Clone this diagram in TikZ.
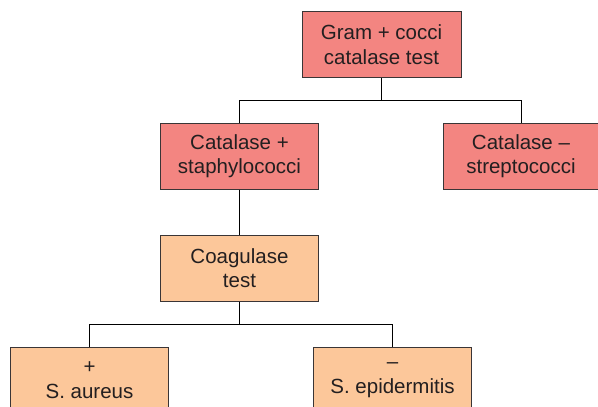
\documentclass[tikz,border=0pt]{standalone}
\usepackage{fontspec}
\setmainfont{Liberation Sans}
\definecolor{redbox}{HTML}{F38581}
\definecolor{orangebox}{HTML}{FCC79A}
\definecolor{txt}{HTML}{231F20}
\definecolor{edge}{HTML}{3A3536}
\begin{document}
\begin{tikzpicture}[x=1pt,y=-1pt,
  box/.style={draw=edge, line width=1pt, text=txt, align=center, inner sep=0pt,
    font=\fontsize{20.5}{24.5}\selectfont},
  redb/.style={box, fill=redbox, minimum width=158pt, minimum height=66pt},
  orb/.style={box, fill=orangebox, minimum width=158pt, minimum height=66pt},
  conn/.style={draw=black, line width=1pt}]
\clip (0,0) rectangle (598,407);
\useasboundingbox (0,0) rectangle (598,407);
\node[redb, minimum width=159pt] (top) at (381.5,44.5) {Gram + cocci\\catalase test};
\node[redb] (staph) at (239.5,156) {Catalase +\\staphylococci};
\node[redb, minimum width=155pt] (strep) at (521,156) {Catalase –\\streptococci};
\node[orb] (coag) at (239.5,268) {Coagulase\\test};
\node[orb] (aur) at (89.5,380) {+\\S. aureus};
\node[orb] (epi) at (392.5,380) {–\\S. epidermitis};
\coordinate (j1) at (top.south |- 0,100.5);
\coordinate (j2) at (coag.south |- 0,324.5);
\draw[conn] (top.south) -- (j1);
\draw[conn] (staph.north) |- (j1) -| (strep.north);
\draw[conn] (staph.south) -- (coag.north);
\draw[conn] (coag.south) -- (j2);
\draw[conn] (aur.north) |- (j2) -| (epi.north);
\end{tikzpicture}
\end{document}
